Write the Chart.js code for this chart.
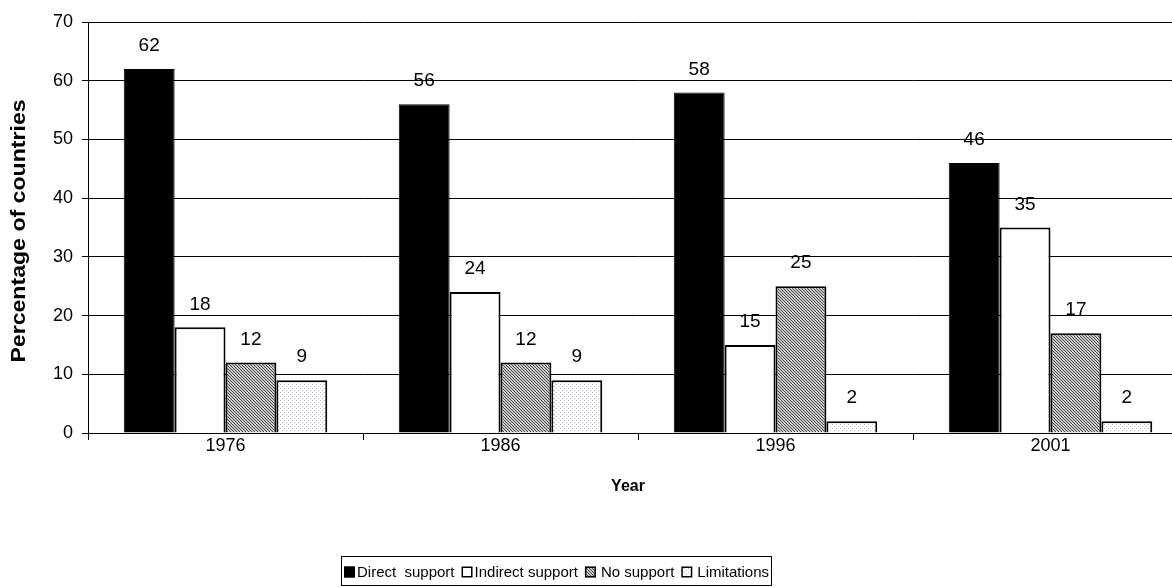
<!DOCTYPE html>
<html>
<head>
<meta charset="utf-8">
<script src="https://cdn.jsdelivr.net/npm/chart.js@4/dist/chart.umd.min.js"></script>
<style>
  html, body { margin: 0; padding: 0; background: #fff; overflow: hidden; }
  #wrap { width: 1192px; height: 587px; position: relative; }
</style>
</head>
<body>
<div id="wrap"><canvas id="c" width="1192" height="587"></canvas></div>
<script>
// Survey years and share of countries per policy stance
const years = ['1976', '1986', '1996', '2001'];
const directSupport = [62, 56, 58, 46];
const indirectSupport = [18, 24, 15, 35];
const noSupport = [12, 12, 25, 17];
const limitations = [9, 9, 2, 2];
const seriesNames = ['Direct  support', 'Indirect support', 'No support', 'Limitations'];
const yTicks = [0, 10, 20, 30, 40, 50, 60, 70];

const FONT = 'Arial, "Liberation Sans", sans-serif';

// Fill patterns for the two textured series
function makeTile(size, paint) {
  const t = document.createElement('canvas');
  t.width = size; t.height = size;
  paint(t.getContext('2d'));
  return t;
}
const ctxMain = document.getElementById('c').getContext('2d');
const hatchTile = makeTile(3, g => {
  g.fillStyle = '#cacaca'; g.fillRect(0, 0, 3, 3);
  g.fillStyle = '#484848';
  for (let i = 0; i < 3; i++) g.fillRect(i, i, 1, 1);
});
const dotTile = makeTile(4, g => {
  g.fillStyle = '#ffffff'; g.fillRect(0, 0, 4, 4);
  g.fillStyle = '#b7c2d4';
  g.fillRect(0, 0, 1, 1);
  g.fillRect(2, 2, 1, 1);
});
const hatch = ctxMain.createPattern(hatchTile, 'repeat');
const dots = ctxMain.createPattern(dotTile, 'repeat');

const fills = ['#000000', '#ffffff', hatch, dots];

// Value labels above each bar
const valueLabels = {
  id: 'valueLabels',
  afterDatasetsDraw(chart) {
    const g = chart.ctx;
    g.save();
    g.font = '19px ' + FONT;
    g.fillStyle = '#000';
    g.textAlign = 'center';
    g.textBaseline = 'middle';
    chart.data.datasets.forEach((ds, i) => {
      chart.getDatasetMeta(i).data.forEach((bar, j) => {
        g.fillText(String(ds.data[j]), bar.x, bar.y - 23);
      });
    });
    g.restore();
  }
};

// Axis titles and boxed legend
const decorations = {
  id: 'decorations',
  afterDraw(chart) {
    const g = chart.ctx;
    g.save();
    g.fillStyle = '#000';
    g.textAlign = 'center';
    g.textBaseline = 'middle';
    g.font = 'bold 16px ' + FONT;
    g.fillText('Year', 628, 487);
    g.save();
    g.font = 'bold 21px ' + FONT;
    g.translate(19, 231);
    g.rotate(-Math.PI / 2);
    g.scale(1.1, 1);
    g.fillText('Percentage of countries', 0, 0);
    g.restore();

    // legend
    g.font = '15px ' + FONT;
    g.textAlign = 'left';
    const box = 11;
    const gapAfter = [2, 2, 5, 5];
    const gapItems = 7;
    const widths = seriesNames.map(n => g.measureText(n).width);
    let total = 0;
    widths.forEach((w, i) => { total += box + gapAfter[i] + w + (i < widths.length - 1 ? gapItems : 0); });
    const pad = 3;
    const cx = 556;
    const left = Math.round(cx - total / 2 - pad);
    const right = Math.round(cx + total / 2 + pad);
    g.strokeStyle = '#000';
    g.lineWidth = 1;
    g.strokeRect(left + 0.5, 556.5, right - left, 29);
    let x = left + pad;
    const cy = 573;
    chart.data.datasets.forEach((ds, i) => {
      g.fillStyle = ds.backgroundColor;
      g.fillRect(x, cy - box / 2 - 1, box, box);
      g.strokeStyle = '#000';
      g.lineWidth = 1.5;
      g.strokeRect(x + 0.75, cy - box / 2 - 0.25, box - 1.5, box - 1.5);
      x += box + gapAfter[i];
      g.fillStyle = '#000';
      g.fillText(seriesNames[i], x, cy);
      x += widths[i] + gapItems;
    });
    g.restore();
  }
};

const dataSets = [directSupport, indirectSupport, noSupport, limitations].map((vals, i) => ({
  label: seriesNames[i],
  data: vals,
  backgroundColor: fills[i],
  borderColor: '#000',
  borderWidth: i === 0 ? 1 : 2,
  borderSkipped: 'bottom',
  categoryPercentage: 0.74,
  barPercentage: 1.0
}));

new Chart(document.getElementById('c'), {
  type: 'bar',
  data: { labels: years, datasets: dataSets },
  options: {
    responsive: false,
    animation: false,
    devicePixelRatio: 1,
    layout: { padding: { top: 22, right: 4, left: 0, bottom: 0 } },
    plugins: {
      legend: { display: false },
      tooltip: { enabled: false },
      title: { display: false }
    },
    scales: {
      x: {
        offset: true,
        grid: {
          offset: true,
          drawOnChartArea: false,
          drawTicks: true,
          tickLength: 7,
          color: '#000'
        },
        border: { color: '#000', width: 1 },
        ticks: {
          color: '#000',
          font: { size: 18, family: FONT },
          padding: -5,
          maxRotation: 0
        },
        afterFit(scale) { scale.height = 154; }
      },
      y: {
        min: 0,
        max: 70,
        afterBuildTicks(scale) { scale.ticks = yTicks.map(v => ({ value: v })); },
        grid: {
          color: '#000',
          lineWidth: 1,
          drawTicks: true,
          tickLength: 6,
          tickColor: '#000'
        },
        border: { color: '#000', width: 1 },
        ticks: {
          color: '#000',
          font: { size: 18, family: FONT },
          padding: 9
        },
        afterFit(scale) { scale.width = 88; }
      }
    }
  },
  plugins: [valueLabels, decorations]
});
</script>
</body>
</html>
